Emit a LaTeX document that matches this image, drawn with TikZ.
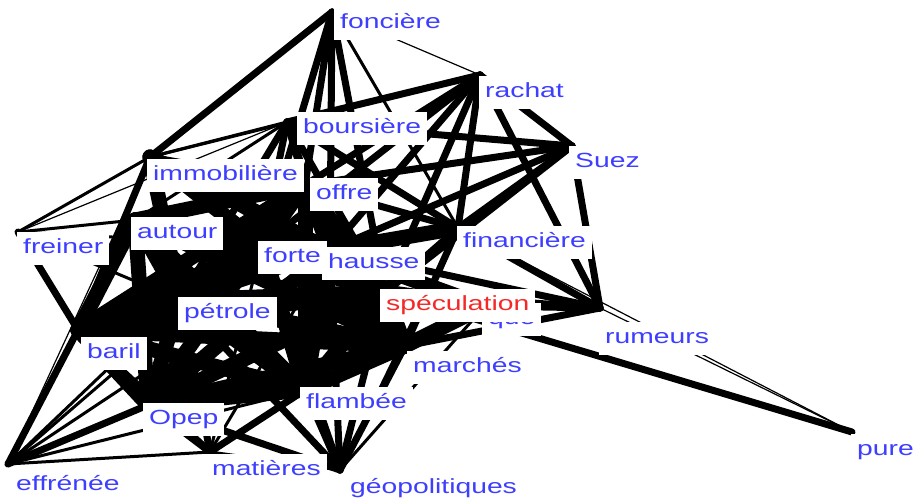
\documentclass[tikz,border=0pt]{standalone}
\usepackage{fontspec}
\setmainfont{Liberation Sans}[FakeStretch=1.38]
\usetikzlibrary{positioning}
\definecolor{wordblue}{RGB}{62,62,255}
\definecolor{pivotred}{RGB}{245,40,40}

\begin{document}
\begin{tikzpicture}[
      x=1pt, y=-1pt,
      word/.style   = {fill=white, anchor=north west, inner xsep=6pt, inner ysep=6pt,
                       text height=15pt, text depth=6pt, text=wordblue,
                       font=\fontsize{20.5}{22}\selectfont},
      pivot/.style  = {word, text=pivotred},
      link/.style   = {line cap=round, black},
      heavy/.style  = {link, line width=15pt},
      medium/.style = {link, line width=7pt},
      light/.style  = {link, line width=3pt},
      hair/.style   = {link, line width=1.2pt}
    ]
    \useasboundingbox (0,0) rectangle (913,502);

    % Anchors
    \coordinate (fonciere)      at (332,12);
    \coordinate (rachat)        at (480,75);
    \coordinate (suez)          at (572,146);
    \coordinate (boursiere)     at (287,122);
    \coordinate (immobiliere)   at (150,157);
    \coordinate (offre)         at (305,185);
    \coordinate (autour)        at (135,220);
    \coordinate (freiner)       at (18,232);
    \coordinate (forte)         at (262,245);
    \coordinate (hausse)        at (330,250);
    \coordinate (financiere)    at (458,228);
    \coordinate (speculation)   at (385,292);
    \coordinate (que)           at (485,306);
    \coordinate (rumeurs)       at (600,308);
    \coordinate (pure)          at (852,432);
    \coordinate (marches)       at (405,346);
    \coordinate (petrole)       at (180,300);
    \coordinate (baril)         at (78,330);
    \coordinate (flambee)       at (305,390);
    \coordinate (opep)          at (148,405);
    \coordinate (matieres)      at (210,452);
    \coordinate (geopolitiques) at (340,470);
    \coordinate (effrenee)      at (8,464);

    % Co-occurrences
    \foreach \a/\b in {autour/forte, autour/petrole, autour/baril, autour/hausse, autour/offre,
        autour/opep, autour/speculation, autour/marches, autour/flambee,
        forte/hausse, forte/petrole, forte/baril, forte/opep, forte/flambee,
        forte/marches, forte/speculation, forte/offre, hausse/petrole, hausse/speculation,
        hausse/marches, hausse/flambee, hausse/baril, hausse/opep, hausse/offre,
        hausse/que, hausse/financiere,
        petrole/baril, petrole/opep, petrole/flambee, petrole/marches, petrole/speculation,
        baril/opep, baril/flambee, baril/marches, baril/speculation, opep/flambee,
        opep/marches, opep/speculation, flambee/marches, flambee/speculation,
        speculation/marches, offre/speculation, offre/petrole, offre/marches,
        offre/flambee, offre/baril, immobiliere/forte, immobiliere/hausse,
        immobiliere/petrole, speculation/que, marches/que}
      \draw[heavy] (\a) -- (\b);

    \foreach \a/\b in {rachat/boursiere, rachat/offre, rachat/hausse, rachat/forte,
        rachat/speculation, rachat/financiere, rachat/suez, rachat/rumeurs, suez/boursiere,
        suez/offre, suez/hausse, suez/financiere, suez/speculation, suez/rumeurs,
        financiere/rumeurs, financiere/offre, financiere/speculation,
        financiere/boursiere, financiere/marches, speculation/rumeurs, hausse/rumeurs,
        que/rumeurs, marches/rumeurs, boursiere/offre, boursiere/hausse, boursiere/forte,
        boursiere/speculation, boursiere/petrole, fonciere/hausse, fonciere/offre,
        fonciere/forte, fonciere/immobiliere, fonciere/speculation, freiner/baril,
        effrenee/baril, effrenee/opep, speculation/pure, geopolitiques/flambee,
        geopolitiques/hausse, geopolitiques/marches, geopolitiques/speculation,
        geopolitiques/forte, geopolitiques/petrole, geopolitiques/opep,
        immobiliere/baril, immobiliere/offre, immobiliere/speculation,
        matieres/opep, matieres/petrole, matieres/flambee, matieres/baril}
      \draw[medium] (\a) -- (\b);

    \foreach \a/\b in {fonciere/financiere, immobiliere/rachat, immobiliere/boursiere,
        immobiliere/freiner, freiner/autour, freiner/petrole,
        freiner/forte, effrenee/forte, effrenee/petrole, effrenee/hausse, effrenee/flambee,
        effrenee/matieres, effrenee/autour, matieres/hausse, matieres/forte,
        geopolitiques/matieres, geopolitiques/que,
        geopolitiques/financiere, autour/boursiere}
      \draw[light] (\a) -- (\b);

    \foreach \a/\b in {fonciere/rachat, financiere/pure, rumeurs/pure,
        effrenee/immobiliere, freiner/boursiere}
      \draw[hair] (\a) -- (\b);

    % Words
    \node[word]  (w-fonciere)      at (334,7)   {foncière};
    \node[word]  (w-rachat)        at (479,76)  {rachat};
    \node[word]  (w-suez)          at (569,146) {Suez};
    \node[word]  (w-boursiere)     at (297,112) {boursière};
    \node[word]  (w-immobiliere)   at (147,159) {immobilière};
    \node[word]  (w-offre)         at (310,178) {offre};
    \node[word]  (w-autour)        at (131,217) {autour};
    \node[word]  (w-freiner)       at (17,232)  {freiner};
    \node[word]  (w-forte)         at (258,241) {forte};
    \node[word]  (w-hausse)        at (322,247) {hausse};
    \node[word]  (w-financiere)    at (457,226) {financière};
    \node[word]  (w-que)           at (482,303) {que};
    \node[pivot] (w-speculation)   at (380,289) {spéculation};
    \node[word]  (w-rumeurs)       at (599,322) {rumeurs};
    \node[word]  (w-pure)          at (851,434) {pure};
    \node[word]  (w-marches)       at (407,351) {marchés};
    \node[word]  (w-petrole)       at (178,297) {pétrole};
    \node[word]  (w-baril)         at (81,337)  {baril};
    \node[word]  (w-opep)          at (143,403) {Opep};
    \node[word]  (w-flambee)       at (300,387) {flambée};
    \node[word]  (w-matieres)      at (206,454) {matières};
    \node[word]  (w-geopolitiques) at (344,472) {géopolitiques};
    \node[word]  (w-effrenee)      at (10,469)  {effrénée};

\end{tikzpicture}
\end{document}
